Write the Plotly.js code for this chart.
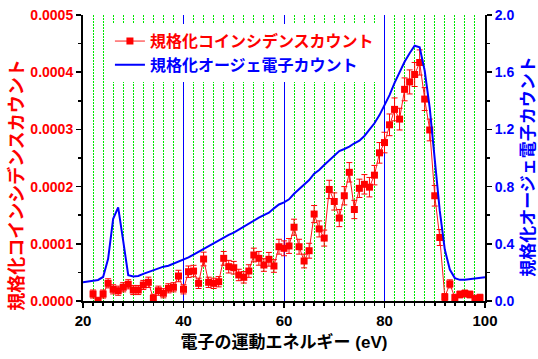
<!DOCTYPE html>
<html>
<head>
<meta charset="utf-8">
<script src="https://cdn.plot.ly/plotly-3.0.1.min.js"></script>
<style>html,body{margin:0;padding:0;background:#fff;}#chart{width:538px;height:359px;}</style>
</head>
<body>
<div id="chart"></div>
<script>
// Coincidence counts (left axis)
const coinEnergy = [22,23,24,25,26,27,28,29,30,31,32,33,34,35,36,37,38,39,40,41,42,43,44,45,46,47,48,49,50,51,52,53,54,55,56,57,58,59,60,61,62,63,64,65,66,67,68,69,70,71,72,73,74,75,76,77,78,79,80,81,82,83,84,85,86,87,88,89,90,91,92,93,94,95,96,97,98,99];
const coinCounts = [0.0000122,0.0000005,0.0000122,0.0000309,0.0000204,0.0000180,0.0000240,0.0000292,0.0000192,0.0000192,
  0.0000280,0.0000327,0.0000047,0.0000180,0.0000135,0.0000222,0.0000240,0.0000437,0.0000204,0.0000512,
  0.0000524,0.0000309,0.0000734,0.0000327,0.0000309,0.0000337,0.0000746,0.0000600,0.0000582,0.0000455,
  0.0000414,0.0000524,0.0000804,0.0000746,0.0000629,0.0000729,0.0000612,0.0000949,0.0000921,0.0000962,
  0.000129,0.0000949,0.0000699,0.0000879,0.000152,0.000126,0.000110,0.000195,0.000174,0.000145,
  0.000184,0.000225,0.000160,0.000197,0.000204,0.000199,0.000220,0.000259,0.000277,0.000308,
  0.000335,0.000318,0.000370,0.000383,0.000396,0.000417,0.000353,0.000299,0.000184,0.000111,
  0.000007,0.000030,0.0000058,0.0000114,0.0000131,0.0000114,0.000004,0.0000058];
const coinErrors = [0.000007,0.000006,0.000007,0.000008,0.000008,0.000008,0.000008,0.000008,0.000008,0.000008,
  0.000008,0.000009,0.000007,0.000008,0.000008,0.000008,0.000008,0.000010,0.000008,0.000010,
  0.000010,0.000009,0.000012,0.000009,0.000009,0.000009,0.000012,0.000011,0.000011,0.000010,
  0.000010,0.000011,0.000012,0.000012,0.000011,0.000012,0.000011,0.000013,0.000013,0.000013,
  0.000014,0.000013,0.000012,0.000013,0.000015,0.000014,0.000014,0.000016,0.000015,0.000015,
  0.000016,0.000017,0.000016,0.000016,0.000017,0.000017,0.000017,0.000018,0.000018,0.000019,
  0.000020,0.000019,0.000020,0.000021,0.000021,0.000022,0.000020,0.000019,0.000018,0.000014,
  0.000006,0.000007,0.000006,0.000006,0.000006,0.000006,0.000006,0.000006];

// Auger electron counts (right axis)
const augerEnergy = [20,21,22,23,24,25,26,27,28,29,30,31,32,33,34,35,36,37,38,39,40,41,42,43,44,45,46,47,48,49,50,51,52,53,54,55,56,57,58,59,60,61,62,63,64,65,66,67,68,69,70,71,72,73,74,75,76,77,78,79,80,81,82,83,84,85,86,87,88,89,90,91,92,93,94,95,96,97,98,99,100];
const augerCounts = [0.131,0.138,0.142,0.147,0.168,0.295,0.575,0.655,0.420,0.180,
  0.172,0.175,0.190,0.203,0.215,0.228,0.240,0.247,0.262,0.275,
  0.288,0.305,0.325,0.345,0.364,0.385,0.403,0.420,0.443,0.462,
  0.478,0.500,0.520,0.543,0.562,0.583,0.601,0.617,0.648,0.675,
  0.690,0.711,0.750,0.780,0.810,0.846,0.890,0.916,0.951,0.986,
  1.020,1.049,1.063,1.080,1.103,1.121,1.154,1.196,1.243,1.300,
  1.365,1.440,1.525,1.603,1.673,1.732,1.785,1.775,1.610,1.350,
  0.980,0.630,0.360,0.220,0.160,0.148,0.148,0.152,0.155,0.160,0.166];

const nameCoin = '規格化コインシデンスカウント';
const nameAuger = '規格化オージェ電子カウント';
const xTitle = '電子の運動エネルギー (eV)';

const FAM = 'Arial, "Liberation Sans", "Noto Sans CJK JP", sans-serif';

const traces = [
  {
    x: coinEnergy, y: coinCounts, type: 'scatter', mode: 'lines+markers',
    name: '<span style="color:#ff0000"><b>' + nameCoin + '</b></span>',
    line: {color: '#ff1a1a', width: 1},
    marker: {symbol: 'square', size: 7, color: '#ff0000'},
    error_y: {type: 'data', array: coinErrors, visible: true, color: '#ff0000', thickness: 1, width: 3},
    xaxis: 'x', yaxis: 'y'
  },
  {
    x: augerEnergy, y: augerCounts, type: 'scatter', mode: 'lines',
    name: '<span style="color:#0000ff"><b>' + nameAuger + '</b></span>',
    line: {color: '#0000ff', width: 2},
    xaxis: 'x', yaxis: 'y2'
  }
];

const layout = {
  width: 538, height: 359,
  margin: {l: 83, r: 53, t: 15, b: 58, pad: 0},
  paper_bgcolor: '#ffffff', plot_bgcolor: '#ffffff',
  font: {family: FAM, size: 14, color: '#000000'},
  showlegend: true,
  legend: {
    x: 0.067, y: 0.968, xanchor: 'left', yanchor: 'top',
    bgcolor: '#ffffff', borderwidth: 0,
    font: {family: FAM, size: 16}
  },
  xaxis: {
    range: [20, 100], tick0: 20, dtick: 20, automargin: false,
    tickprefix: '<b>', ticksuffix: '</b>',
    ticks: 'outside', ticklen: 5, tickwidth: 1.5, tickcolor: '#000',
    showline: true, linecolor: '#000', linewidth: 2, zeroline: false,
    showgrid: true, gridcolor: '#0000ff', gridwidth: 1,
    tickfont: {family: FAM, size: 15, color: '#000'},
    minor: {dtick: 2, ticks: 'outside', ticklen: 3, tickcolor: '#000',
            showgrid: true, gridcolor: '#00e600', gridwidth: 1, griddash: '2px,1px'},
    title: {text: '<b>' + xTitle + '</b>', font: {family: FAM, size: 17, color: '#000'}, standoff: 8}
  },
  yaxis: {
    range: [0, 0.0005], dtick: 0.0001, tickformat: '.4f', automargin: false,
    tickprefix: '<b>', ticksuffix: '</b>',
    ticks: 'outside', ticklen: 5, tickwidth: 1.5, tickcolor: '#000',
    showline: true, linecolor: '#000', linewidth: 2, zeroline: false, showgrid: false,
    tickfont: {family: FAM, size: 14, color: '#ff0000'},
    minor: {dtick: 0.00005, ticks: 'outside', ticklen: 3, tickcolor: '#000', showgrid: false},
    title: {text: '<b>' + nameCoin + '\u3000\u3000\u3000</b>', font: {family: FAM, size: 18, color: '#ff0000'}, standoff: 2}
  },
  yaxis2: {
    range: [0, 2], dtick: 0.4, tickformat: '.1f', overlaying: 'y', side: 'right', automargin: false,
    tickprefix: '<b>', ticksuffix: '</b>',
    ticks: 'outside', ticklen: 5, tickwidth: 1.5, tickcolor: '#000',
    showline: true, linecolor: '#000', linewidth: 2, zeroline: false, showgrid: false,
    tickfont: {family: FAM, size: 14, color: '#0000ff'},
    minor: {dtick: 0.2, ticks: 'outside', ticklen: 3, tickcolor: '#000', showgrid: false},
    title: {text: '<b>' + nameAuger + '\u3000</b>', font: {family: FAM, size: 17, color: '#0000ff'}, standoff: 9}
  }
};

Plotly.newPlot('chart', traces, layout, {displayModeBar: false, staticPlot: true});
</script>
</body>
</html>
